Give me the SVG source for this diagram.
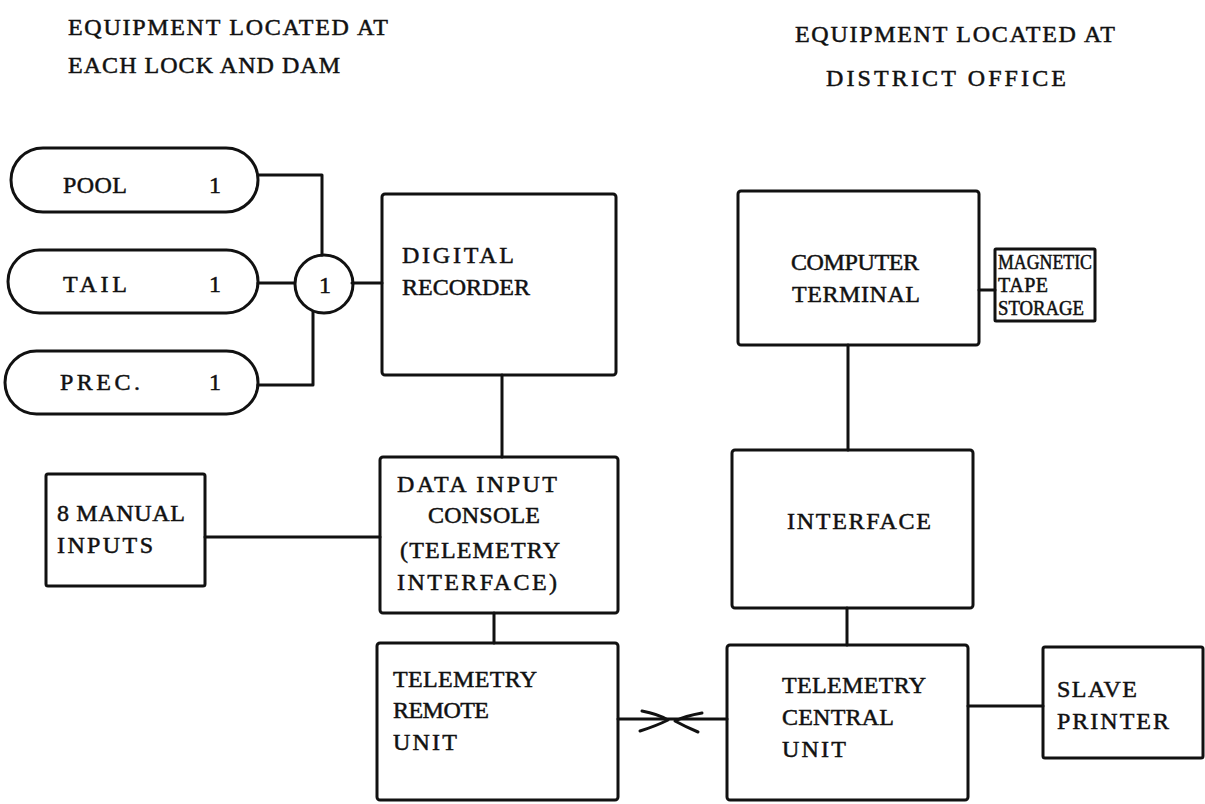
<svg xmlns="http://www.w3.org/2000/svg" width="1205" height="804" viewBox="0 0 1205 804">
<style>
  .bx { fill: none; stroke: #111; stroke-width: 3; }
  .ln { fill: none; stroke: #111; stroke-width: 3; stroke-linejoin: round; stroke-linecap: round; }
  text { font-family: "Liberation Serif", "Times New Roman", serif; font-size: 24px; fill: #111; stroke: #111; stroke-width: 0.5; }
  .sm { font-size: 20px; }
</style>
<rect width="1205" height="804" fill="#fff"/>
<g id="headers">
  <text x="68" y="35" textLength="320" lengthAdjust="spacing">EQUIPMENT LOCATED AT</text>
  <text x="68" y="73" textLength="272" lengthAdjust="spacing">EACH LOCK AND DAM</text>
  <text x="795" y="42" textLength="320" lengthAdjust="spacing">EQUIPMENT LOCATED AT</text>
  <text x="826" y="86" textLength="240" lengthAdjust="spacing">DISTRICT OFFICE</text>
</g>
<g id="connectors">
  <polyline class="ln" points="258,175 322,175 322,255"/>
  <line class="ln" x1="258" y1="283" x2="294" y2="283"/>
  <polyline class="ln" points="258,385 313,385 313,312"/>
  <line class="ln" x1="352" y1="283" x2="382" y2="283"/>
  <line class="ln" x1="502" y1="375" x2="502" y2="457"/>
  <line class="ln" x1="205" y1="537" x2="380" y2="537"/>
  <line class="ln" x1="494" y1="613" x2="494" y2="643"/>
  <line class="ln" x1="618" y1="719" x2="727" y2="719"/>
  <path class="ln" d="M642,711 Q658,714 668,720 Q656,726 640,731"/>
  <path class="ln" d="M702,713 Q685,716 675,721 Q686,727 698,732"/>
  <line class="ln" x1="848" y1="345" x2="848" y2="450"/>
  <line class="ln" x1="979" y1="290" x2="995" y2="290"/>
  <line class="ln" x1="847" y1="608" x2="847" y2="645"/>
  <line class="ln" x1="968" y1="706" x2="1043" y2="706"/>
</g>
<g id="pool">
  <rect class="bx" x="11" y="148" width="247" height="64" rx="32"/>
  <text x="63" y="193" textLength="64" lengthAdjust="spacing">POOL</text>
  <text x="209" y="193">1</text>
</g>
<g id="tail">
  <rect class="bx" x="8" y="250" width="250" height="63" rx="31.5"/>
  <text x="63" y="292" textLength="64" lengthAdjust="spacing">TAIL</text>
  <text x="209" y="292">1</text>
</g>
<g id="prec">
  <rect class="bx" x="5" y="351" width="253" height="63" rx="31.5"/>
  <text x="60" y="390" textLength="80" lengthAdjust="spacing">PREC.</text>
  <text x="209" y="390">1</text>
</g>
<g id="junction">
  <circle class="bx" cx="324" cy="284" r="29"/>
  <text x="325" y="293" text-anchor="middle">1</text>
</g>
<g id="digital-recorder">
  <rect class="bx" x="382" y="194" width="234" height="181" rx="3"/>
  <text x="402" y="263" textLength="112" lengthAdjust="spacing">DIGITAL</text>
  <text x="402" y="295" textLength="128" lengthAdjust="spacing">RECORDER</text>
</g>
<g id="manual-inputs">
  <rect class="bx" x="46" y="474" width="159" height="112" rx="2"/>
  <text x="57" y="521" textLength="128" lengthAdjust="spacing">8 MANUAL</text>
  <text x="57" y="553" textLength="96" lengthAdjust="spacing">INPUTS</text>
</g>
<g id="data-input-console">
  <rect class="bx" x="380" y="457" width="238" height="156" rx="3"/>
  <text x="397" y="492" textLength="160" lengthAdjust="spacing">DATA INPUT</text>
  <text x="428" y="523" textLength="112" lengthAdjust="spacing">CONSOLE</text>
  <text x="400" y="558" textLength="160" lengthAdjust="spacing">(TELEMETRY</text>
  <text x="397" y="590" textLength="160" lengthAdjust="spacing">INTERFACE)</text>
</g>
<g id="telemetry-remote-unit">
  <rect class="bx" x="377" y="643" width="241" height="157" rx="3"/>
  <text x="393" y="687" textLength="144" lengthAdjust="spacing">TELEMETRY</text>
  <text x="393" y="718" textLength="96" lengthAdjust="spacing">REMOTE</text>
  <text x="393" y="750" textLength="64" lengthAdjust="spacing">UNIT</text>
</g>
<g id="computer-terminal">
  <rect class="bx" x="738" y="191" width="241" height="154" rx="3"/>
  <text x="791" y="270" textLength="128" lengthAdjust="spacing">COMPUTER</text>
  <text x="792" y="302" textLength="128" lengthAdjust="spacing">TERMINAL</text>
</g>
<g id="magnetic-tape-storage">
  <rect class="bx" x="995" y="249" width="100" height="72" rx="1"/>
  <text class="sm" x="998" y="269" textLength="94" lengthAdjust="spacingAndGlyphs">MAGNETIC</text>
  <text class="sm" x="998" y="292" textLength="50" lengthAdjust="spacing">TAPE</text>
  <text class="sm" x="998" y="315" textLength="86" lengthAdjust="spacingAndGlyphs">STORAGE</text>
</g>
<g id="interface">
  <rect class="bx" x="732" y="450" width="241" height="158" rx="3"/>
  <text x="787" y="529" textLength="144" lengthAdjust="spacing">INTERFACE</text>
</g>
<g id="telemetry-central-unit">
  <rect class="bx" x="727" y="645" width="241" height="155" rx="3"/>
  <text x="782" y="693" textLength="144" lengthAdjust="spacing">TELEMETRY</text>
  <text x="782" y="725" textLength="112" lengthAdjust="spacing">CENTRAL</text>
  <text x="782" y="757" textLength="64" lengthAdjust="spacing">UNIT</text>
</g>
<g id="slave-printer">
  <rect class="bx" x="1043" y="647" width="160" height="111" rx="2"/>
  <text x="1057" y="697" textLength="80" lengthAdjust="spacing">SLAVE</text>
  <text x="1057" y="729" textLength="112" lengthAdjust="spacing">PRINTER</text>
</g>
</svg>
